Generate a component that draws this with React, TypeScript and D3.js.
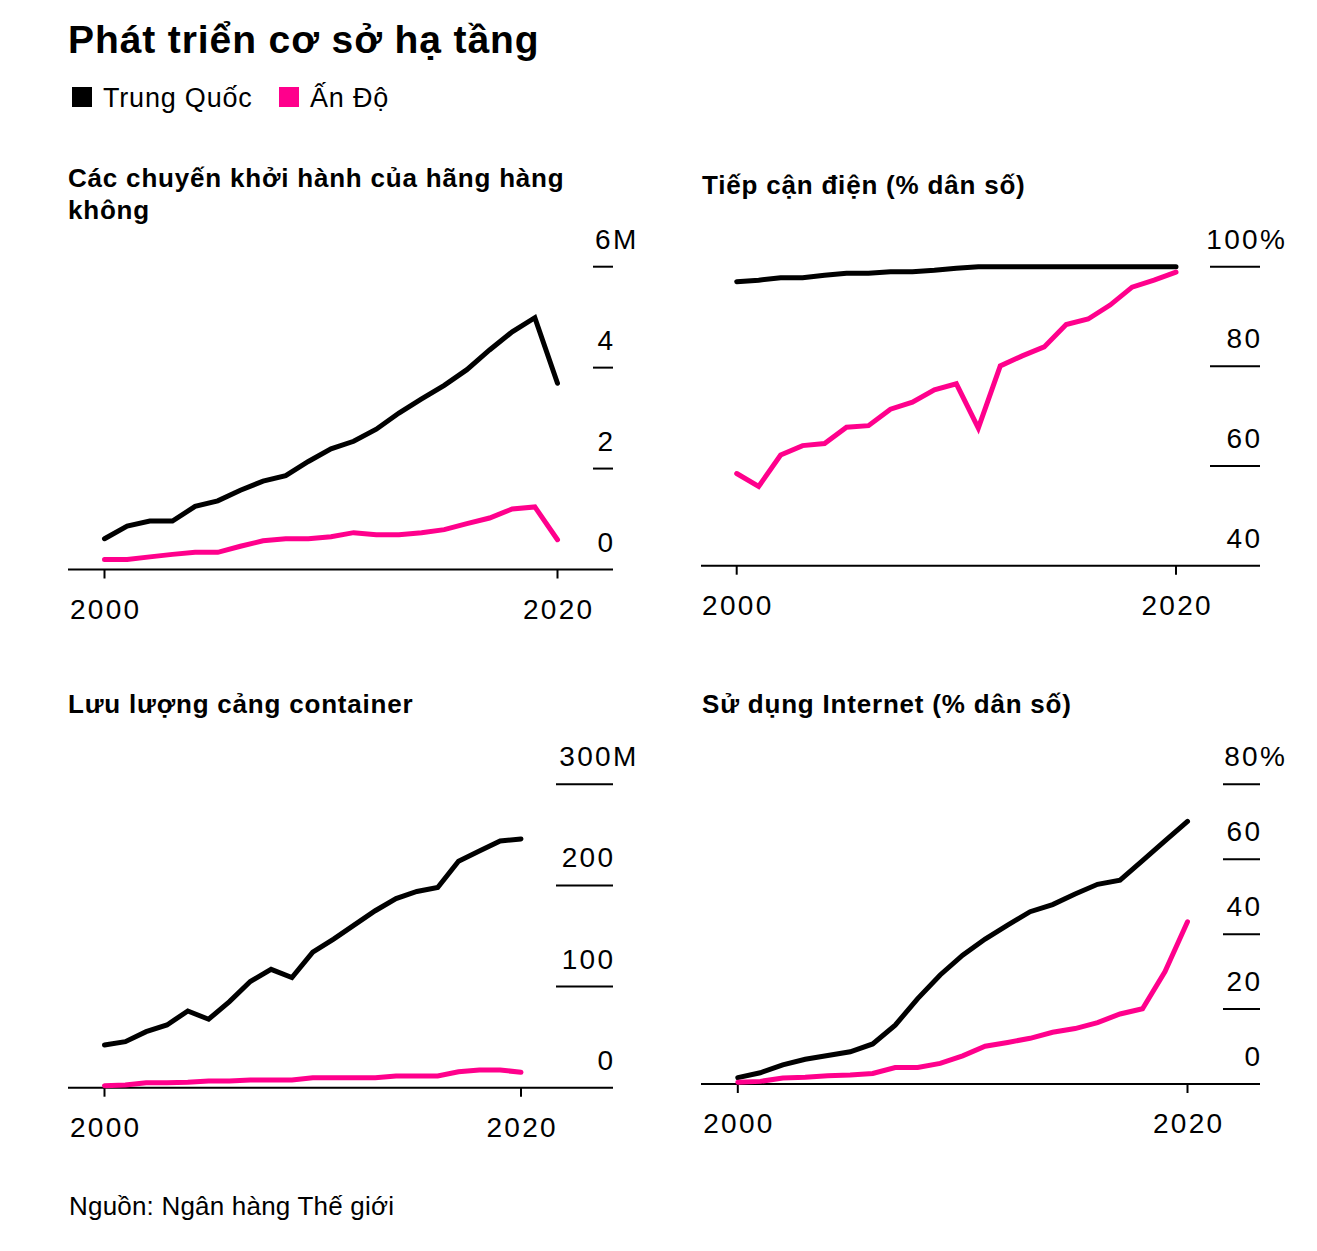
import React from "react";
import * as d3 from "d3";

const years = [2000, 2001, 2002, 2003, 2004, 2005, 2006, 2007, 2008, 2009, 2010, 2011, 2012, 2013, 2014, 2015, 2016, 2017, 2018, 2019, 2020];
const xTickYears = [2000, 2020];

const seriesNames = ["Trung Quốc", "Ấn Độ"];

const airChina = [0.61, 0.86, 0.96, 0.96, 1.25, 1.36, 1.57, 1.75, 1.86, 2.14, 2.39, 2.54, 2.78, 3.10, 3.38, 3.65, 3.96, 4.35, 4.71, 4.99, 3.69];
const airIndia = [0.20, 0.20, 0.25, 0.30, 0.34, 0.34, 0.46, 0.57, 0.61, 0.61, 0.65, 0.73, 0.69, 0.69, 0.73, 0.79, 0.91, 1.02, 1.20, 1.24, 0.59];
const airTicks = [0, 2, 4, 6];

const elecChina = [97.0, 97.3, 97.8, 97.8, 98.3, 98.7, 98.7, 99.0, 99.0, 99.3, 99.7, 100, 100, 100, 100, 100, 100, 100, 100, 100, 100];
const elecIndia = [58.5, 55.9, 62.2, 64.1, 64.5, 67.8, 68.1, 71.4, 72.8, 75.3, 76.5, 67.6, 80.1, 82.1, 83.9, 88.4, 89.5, 92.3, 95.9, 97.3, 98.9];
const elecTicks = [40, 60, 80, 100];

const portChina = [42.2, 45.5, 55.4, 62, 75.9, 67.7, 85.1, 105, 117, 109, 134, 147, 161, 175, 187, 194, 198, 224, 234, 244, 246];
const portIndia = [2, 2.6, 5, 5, 5.3, 6.6, 6.6, 7.6, 7.6, 7.6, 9.9, 9.9, 9.9, 9.9, 11.6, 11.6, 11.6, 15.8, 17.5, 17.5, 15.2];
const portTicks = [0, 100, 200, 300];

const netChina = [1.7, 3.0, 5.1, 6.6, 7.6, 8.6, 10.7, 15.7, 22.8, 29.1, 34.4, 38.7, 42.4, 46.0, 47.9, 50.7, 53.3, 54.4, 59.6, 64.9, 70.1];
const netIndia = [0.5, 0.7, 1.6, 1.8, 2.2, 2.4, 2.8, 4.4, 4.4, 5.5, 7.5, 10.1, 11.1, 12.2, 13.8, 14.8, 16.4, 18.7, 20.1, 30.0, 43.3];
const netTicks = [0, 20, 40, 60, 80];

const title = "Phát triển cơ sở hạ tầng";
const source = "Nguồn: Ngân hàng Thế giới";

const BLACK = "#000000";
const PINK = "#ff008c";
const FONT = "'Liberation Sans', Arial, Helvetica, sans-serif";
const NUM_SIZE = 28;
const NUM_SPACING = 2.3;
const UNIT_W: Record<string, number> = { M: 0.833 * NUM_SIZE, "%": 0.889 * NUM_SIZE };

type PanelProps = {
  titleLines: string[];
  titleX: number;
  titleY: number;
  xRange: [number, number];
  yDomain: [number, number];
  yRange: [number, number];
  ticks: number[];
  unit: string;
  tickLen: number;
  axisLeft: number;
  axisRight: number;
  china: number[];
  india: number[];
};

function Panel(p: PanelProps) {
  const x = d3.scaleLinear().domain([2000, 2020]).range(p.xRange);
  const y = d3.scaleLinear().domain(p.yDomain).range(p.yRange);
  const line = d3
    .line<number>()
    .x((_, i) => x(years[i]))
    .y((d) => y(d))
    .curve(d3.curveLinear);
  const base = y(p.yDomain[0]);
  const top = p.ticks[p.ticks.length - 1];
  return (
    <g>
      {p.titleLines.map((t, i) => (
        <text key={i} x={p.titleX} y={p.titleY + i * 31.5} fontFamily={FONT} fontWeight="bold" fontSize={26} letterSpacing={0.8} fill="#000">
          {t}
        </text>
      ))}
      {p.ticks.map((t) => (
        <g key={t}>
          {t !== p.yDomain[0] && (
            <line x1={p.axisRight - p.tickLen} x2={p.axisRight} y1={y(t)} y2={y(t)} stroke="#000" strokeWidth={2} />
          )}
          <text
            x={p.axisRight + (t === top ? UNIT_W[p.unit] : NUM_SPACING)}
            y={y(t) - 18}
            textAnchor="end"
            fontFamily={FONT}
            fontSize={NUM_SIZE}
            letterSpacing={NUM_SPACING}
            fill="#000"
          >
            {String(t)}
            {t === top && <tspan letterSpacing={0}>{p.unit}</tspan>}
          </text>
        </g>
      ))}
      <line x1={p.axisLeft} x2={p.axisRight} y1={base} y2={base} stroke="#000" strokeWidth={2} />
      {xTickYears.map((yr) => (
        <g key={yr}>
          <line x1={x(yr)} x2={x(yr)} y1={base} y2={base + 9} stroke="#000" strokeWidth={2} />
          <text x={x(yr) + NUM_SPACING / 2} y={base + 49} textAnchor="middle" fontFamily={FONT} fontSize={NUM_SIZE} letterSpacing={NUM_SPACING} fill="#000">
            {String(yr)}
          </text>
        </g>
      ))}
      <path d={line(p.china) || ""} fill="none" stroke={BLACK} strokeWidth={5} strokeLinecap="round" strokeLinejoin="miter" />
      <path d={line(p.india) || ""} fill="none" stroke={PINK} strokeWidth={5} strokeLinecap="round" strokeLinejoin="miter" />
    </g>
  );
}

export default function App() {
  const colors = [BLACK, PINK];
  const legendX = [72, 279];
  return (
    <svg width={1317} height={1251} style={{ position: "absolute", left: 0, top: 0, background: "#fff" }}>
      <rect width={1317} height={1251} fill="#fff" />
      <text x={68} y={52.5} fontFamily={FONT} fontWeight="bold" fontSize={39} letterSpacing={0.9} fill="#000">
        {title}
      </text>
      {seriesNames.map((s, i) => (
        <g key={s}>
          <rect x={legendX[i]} y={87} width={20} height={20} fill={colors[i]} />
          <text x={legendX[i] + 31} y={107} fontFamily={FONT} fontSize={27} letterSpacing={0.8} fill="#000">
            {s}
          </text>
        </g>
      ))}
      <Panel
        titleLines={["Các chuyến khởi hành của hãng hàng", "không"]}
        titleX={68}
        titleY={187}
        xRange={[104.5, 557.5]}
        yDomain={[0, 6]}
        yRange={[569.5, 266.7]}
        ticks={airTicks}
        unit="M"
        tickLen={20}
        axisLeft={68}
        axisRight={613}
        china={airChina}
        india={airIndia}
      />
      <Panel
        titleLines={["Tiếp cận điện (% dân số)"]}
        titleX={702}
        titleY={193.5}
        xRange={[736.7, 1176]}
        yDomain={[40, 100]}
        yRange={[565.7, 266.7]}
        ticks={elecTicks}
        unit="%"
        tickLen={50}
        axisLeft={701}
        axisRight={1260}
        china={elecChina}
        india={elecIndia}
      />
      <Panel
        titleLines={["Lưu lượng cảng container"]}
        titleX={68}
        titleY={713}
        xRange={[104.5, 521]}
        yDomain={[0, 300]}
        yRange={[1087.7, 784.3]}
        ticks={portTicks}
        unit="M"
        tickLen={57}
        axisLeft={68}
        axisRight={613}
        china={portChina}
        india={portIndia}
      />
      <Panel
        titleLines={["Sử dụng Internet (% dân số)"]}
        titleX={702}
        titleY={713}
        xRange={[737.8, 1187.5]}
        yDomain={[0, 80]}
        yRange={[1084, 784.3]}
        ticks={netTicks}
        unit="%"
        tickLen={37}
        axisLeft={701}
        axisRight={1260}
        china={netChina}
        india={netIndia}
      />
      <text x={69} y={1215} fontFamily={FONT} fontSize={26} letterSpacing={0.2} fill="#000">
        {source}
      </text>
    </svg>
  );
}
